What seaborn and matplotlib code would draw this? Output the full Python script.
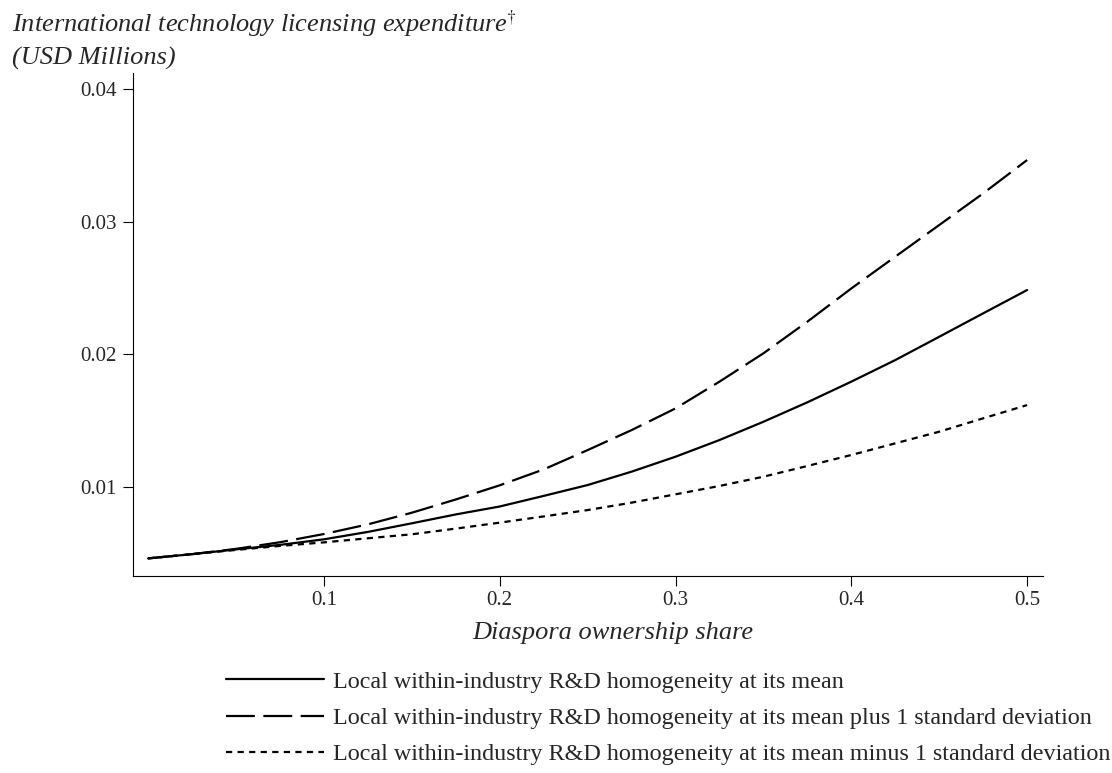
import matplotlib
matplotlib.use("Agg")
import matplotlib.pyplot as plt
import pandas as pd
import seaborn as sns

# diaspora ownership share (x) and predicted licensing expenditure
share = [0.0, 0.025, 0.05, 0.075, 0.1, 0.125, 0.15, 0.175, 0.2, 0.225, 0.25,
         0.275, 0.3, 0.325, 0.35, 0.375, 0.4, 0.425, 0.45, 0.475, 0.5]
at_mean = [0.00458, 0.0049, 0.00526, 0.0056, 0.00602, 0.00658, 0.00723, 0.0079,
           0.0085, 0.0093, 0.01012, 0.01113, 0.01226, 0.01352, 0.0149, 0.01637,
           0.01793, 0.01956, 0.02132, 0.02309, 0.02485]
plus_sd = [0.00458, 0.0049, 0.0053, 0.0058, 0.00642, 0.00715, 0.00803, 0.00903,
           0.0101, 0.0113, 0.01276, 0.01427, 0.01591, 0.01793, 0.02007, 0.02246,
           0.02497, 0.02737, 0.02976, 0.03215, 0.03467]
minus_sd = [0.00458, 0.0049, 0.00522, 0.00552, 0.00579, 0.0061, 0.0064, 0.00683,
            0.00728, 0.00775, 0.00823, 0.00879, 0.00942, 0.01005, 0.01075, 0.01156,
            0.01239, 0.01327, 0.01415, 0.01516, 0.01616]

series_names = [
    "Local within-industry R&D homogeneity at its mean",
    "Local within-industry R&D homogeneity at its mean plus 1 standard deviation",
    "Local within-industry R&D homogeneity at its mean minus 1 standard deviation",
]
x_ticks = [0.1, 0.2, 0.3, 0.4, 0.5]
x_tick_labels = ["0.1", "0.2", "0.3", "0.4", "0.5"]
y_ticks = [0.01, 0.02, 0.03, 0.04]
y_tick_labels = ["0.01", "0.02", "0.03", "0.04"]

frames = []
for name, vals in zip(series_names, [at_mean, plus_sd, minus_sd]):
    frames.append(pd.DataFrame({"share": share, "value": vals, "series": name}))
df = pd.concat(frames, ignore_index=True)

sns.set_style("ticks")
plt.rcParams["font.family"] = ["Liberation Serif", "DejaVu Serif"]
plt.rcParams["mathtext.fontset"] = "stix"

fig = plt.figure(figsize=(11.12, 7.73), dpi=100)
ax = fig.add_axes([0.1193, 0.2552, 0.8186, 0.6503])

dash_styles = {
    series_names[0]: "",
    series_names[1]: (13, 3.8),
    series_names[2]: (2.8, 2.4),
}
sns.lineplot(data=df, x="share", y="value", style="series", style_order=series_names,
             dashes=dash_styles, color="black", linewidth=1.6, ax=ax)

ax.set_xlim(-0.0088, 0.509)
ax.set_ylim(0.00327, 0.04124)
ax.set_xticks(x_ticks)
ax.set_xticklabels(x_tick_labels)
ax.set_yticks(y_ticks)
ax.set_yticklabels(y_tick_labels)
ax.tick_params(direction="out", length=7.2, width=0.8, labelsize=15, pad=4, color="black")
sns.despine(ax=ax)
for side in ["left", "bottom"]:
    ax.spines[side].set_linewidth(0.8)
    ax.spines[side].set_color("black")

ax.set_ylabel("")
ax.set_xlabel("Diaspora ownership share", fontsize=19, style="italic")
ax.xaxis.set_label_coords(0.5276, -0.0911)

fig.text(12 / 1112, 1 - 32 / 773, r"International technology licensing expenditure$^{\dagger}$",
         fontsize=19, style="italic", va="baseline", ha="left")
fig.text(12 / 1112, 1 - 65 / 773, "(USD Millions)",
         fontsize=19, style="italic", va="baseline", ha="left")

handles, labels = ax.get_legend_handles_labels()
ax.get_legend().remove()
fig.legend(handles, labels, loc="upper left", bbox_to_anchor=(226 / 1112, 1 - 671 / 773),
           frameon=False, fontsize=17.4, handlelength=4.05, handletextpad=0.37,
           labelspacing=0.59, borderpad=0, borderaxespad=0)

fig.savefig("out.png", dpi=100)
